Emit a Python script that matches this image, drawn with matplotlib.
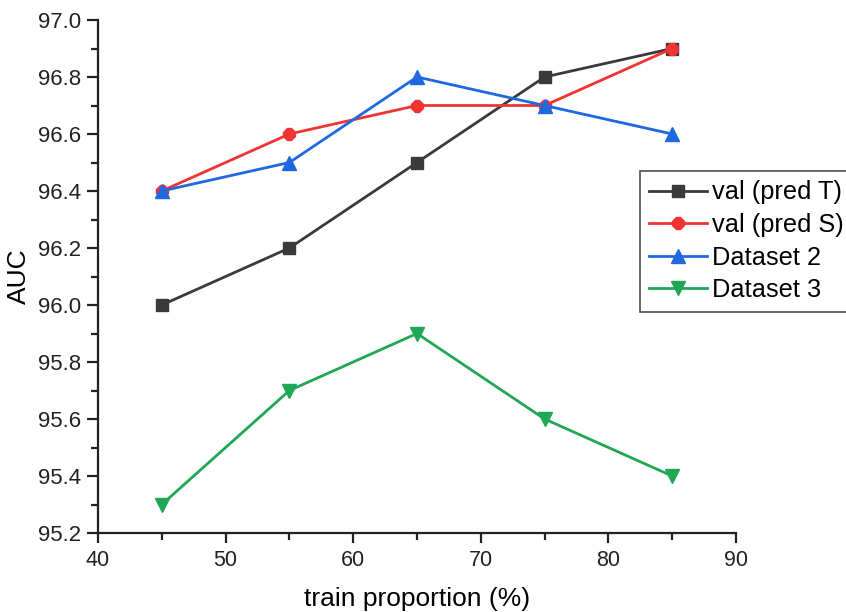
import matplotlib
matplotlib.use("Agg")
import matplotlib.pyplot as plt
from matplotlib.ticker import MultipleLocator

plt.rcParams['font.family'] = ['Liberation Sans', 'DejaVu Sans']

x = [45, 55, 65, 75, 85]
pred_t = [96.0, 96.2, 96.5, 96.8, 96.9]
pred_s = [96.4, 96.6, 96.7, 96.7, 96.9]
dataset2 = [96.4, 96.5, 96.8, 96.7, 96.6]
dataset3 = [95.3, 95.7, 95.9, 95.6, 95.4]
labels = ["val (pred T)", "val (pred S)", "Dataset 2", "Dataset 3"]

fig = plt.figure(figsize=(8.46, 6.12), dpi=100)
ax = fig.add_axes([98/846, 1 - 533/612, (736-98)/846, (533-20)/612])

lw = 2.0
ax.plot(x, pred_t, color='#3a3a3a', marker='s', markersize=8, lw=lw, label=labels[0])
ax.plot(x, pred_s, color='#f03333', marker='8', markersize=9, lw=lw, label=labels[1])
ax.plot(x, dataset2, color='#1f68e0', marker='^', markersize=10, lw=lw, label=labels[2])
ax.plot(x, dataset3, color='#20a655', marker='v', markersize=10, lw=lw, label=labels[3])

ax.set_xlim(40, 90)
ax.set_ylim(95.2, 97.0)
ax.xaxis.set_major_locator(MultipleLocator(10))
ax.xaxis.set_minor_locator(MultipleLocator(5))
ax.yaxis.set_major_locator(MultipleLocator(0.2))
ax.yaxis.set_minor_locator(MultipleLocator(0.1))
ax.yaxis.set_major_formatter(matplotlib.ticker.FormatStrFormatter('%.1f'))

for s in ['top', 'right']:
    ax.spines[s].set_visible(False)
for s in ['left', 'bottom']:
    ax.spines[s].set_linewidth(1.6)
    ax.spines[s].set_color('#222222')

ax.tick_params(axis='y', which='major', direction='out', length=8, width=1.6, labelsize=16, colors='#222222', pad=4)
ax.tick_params(axis='x', which='major', direction='out', length=7, width=1.6, labelsize=15.5, colors='#222222', pad=5)
ax.tick_params(which='minor', direction='out', length=5, width=1.6, colors='#222222')

ax.set_xlabel("train proportion (%)", fontsize=19, labelpad=12)
ax.set_ylabel("AUC", fontsize=19, labelpad=5)

leg = ax.legend(loc='upper left', bbox_to_anchor=(640/846, 1 - 171/612), bbox_transform=fig.transFigure,
                fontsize=18.3, frameon=True, fancybox=False, edgecolor='#222222',
                handlelength=2.25, handletextpad=0.22, borderpad=0.37, labelspacing=0.34,
                borderaxespad=0)
leg.get_frame().set_linewidth(1.2)

fig.savefig("out.png", dpi=100)
